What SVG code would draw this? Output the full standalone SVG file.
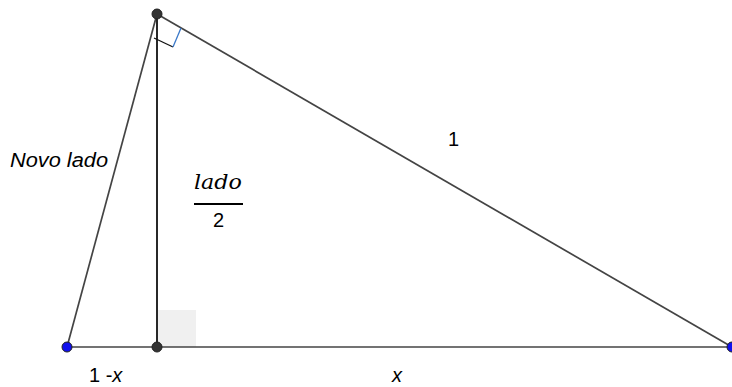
<svg xmlns="http://www.w3.org/2000/svg" width="732" height="387" viewBox="0 0 732 387">
<style>
.seg{stroke:#444;stroke-width:1.7;fill:none}
.t{font-family:"Liberation Sans",Arial,sans-serif;font-size:20px;fill:#000}
.i{font-style:italic}
.m{font-family:"DejaVu Serif","Liberation Serif",serif;font-size:21px;font-style:italic;fill:#000}
.pg{fill:#333;stroke:#222;stroke-width:1}
.pb{fill:#1010ee;stroke:#222;stroke-width:1}
</style>
<rect width="732" height="387" fill="#fff"/>
<rect id="rightangle-foot" x="157" y="310" width="39" height="37" fill="#f0f0f0"/>
<g id="connectors">
<line class="seg" x1="67" y1="347" x2="732" y2="347"/>
<line class="seg" x1="67" y1="347" x2="157" y2="14"/>
<line class="seg" x1="157" y1="14" x2="732" y2="347"/>
<line x1="157" y1="14" x2="157" y2="347" stroke="#111" stroke-width="1.8"/>
<polyline points="154,38 173,47" fill="none" stroke="#111" stroke-width="1.3"/>
<polyline points="173,47 181,28" fill="none" stroke="#3a78c8" stroke-width="1.3"/>
</g>
<g id="node-top"><circle class="pg" cx="157" cy="14" r="5"/></g>
<g id="node-foot"><circle class="pg" cx="157" cy="347" r="5"/></g>
<g id="node-left"><circle class="pb" cx="67" cy="347" r="5"/></g>
<g id="node-right"><circle class="pb" cx="732" cy="347" r="5"/></g>
<g id="labels">
<text class="t i" x="10" y="167" textLength="98" lengthAdjust="spacingAndGlyphs">Novo lado</text>
<text class="t" x="448" y="146">1</text>
<text class="m" x="194" y="189" textLength="48" lengthAdjust="spacingAndGlyphs">lado</text>
<line x1="194" y1="204" x2="243" y2="204" stroke="#000" stroke-width="2"/>
<text class="t" x="213" y="227">2</text>
<text class="t" x="89" y="382">1 -<tspan class="i">x</tspan></text>
<text class="t i" x="392" y="382">x</text>
</g>
</svg>
